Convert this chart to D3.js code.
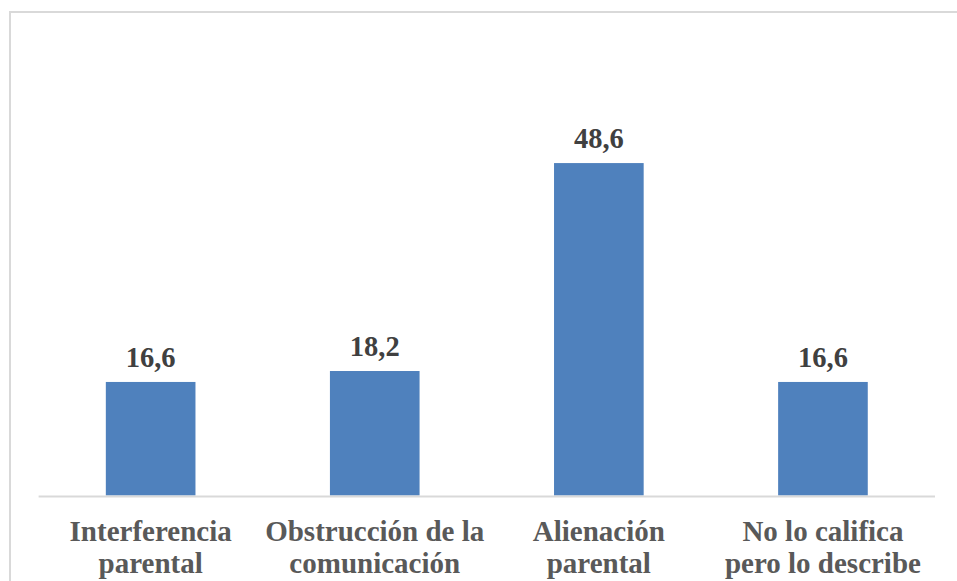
<!DOCTYPE html>
<html><head><meta charset="utf-8">
<script src="https://cdn.jsdelivr.net/npm/d3@7"></script>
<style>html,body{margin:0;padding:0;background:#fff;}svg{display:block;}</style>
</head><body>
<svg id="c" width="957" height="581"></svg>
<script>
const categories = [
  ["Interferencia", "parental"],
  ["Obstrucción de la", "comunicación"],
  ["Alienación", "parental"],
  ["No lo califica", "pero lo describe"]
];
const values = [16.6, 18.2, 48.6, 16.6];
const valueLabels = ["16,6", "18,2", "48,6", "16,6"];

const FONT = "'Liberation Serif', 'Times New Roman', serif";
const svg = d3.select("#c");
const W = 957, H = 581;
const x0 = 38.6, x1 = 935, baseY = 495.5;
const yMax = 60;

svg.append("rect").attr("x", 10).attr("y", 12).attr("width", W + 20).attr("height", H + 20)
  .attr("fill", "#fff").attr("stroke", "#d9d9d9").attr("stroke-width", 2);

const x = d3.scaleBand().domain(d3.range(categories.length)).range([x0, x1])
  .paddingInner(0.6).paddingOuter(0.3);
const y = d3.scaleLinear().domain([0, yMax]).range([baseY, baseY - yMax * 6.84]);

svg.append("g").selectAll("rect").data(values).join("rect")
  .attr("x", (d, i) => x(i)).attr("width", x.bandwidth())
  .attr("y", d => y(d)).attr("height", d => y(0) - y(d))
  .attr("fill", "#4f81bd");

svg.append("line").attr("x1", x0).attr("x2", x1).attr("y1", baseY + 1).attr("y2", baseY + 1)
  .attr("stroke", "#d9d9d9").attr("stroke-width", 2);

svg.append("g").selectAll("text").data(values).join("text")
  .attr("x", (d, i) => x(i) + x.bandwidth() / 2)
  .attr("y", d => y(d) - 15)
  .attr("text-anchor", "middle")
  .style("font-family", FONT).style("font-weight", "bold").style("font-size", "28.5px")
  .attr("fill", "#404040")
  .text((d, i) => valueLabels[i]);

const cg = svg.append("g").selectAll("text").data(categories).join("text")
  .attr("text-anchor", "middle")
  .style("font-family", FONT).style("font-weight", "bold").style("font-size", "29px")
  .attr("fill", "#595959");
cg.each(function(d, i) {
  const t = d3.select(this);
  d.forEach((line, j) => {
    t.append("tspan").attr("x", x(i) + x.bandwidth() / 2).attr("y", 541 + j * 31.5).text(line);
  });
});
</script>
</body></html>
